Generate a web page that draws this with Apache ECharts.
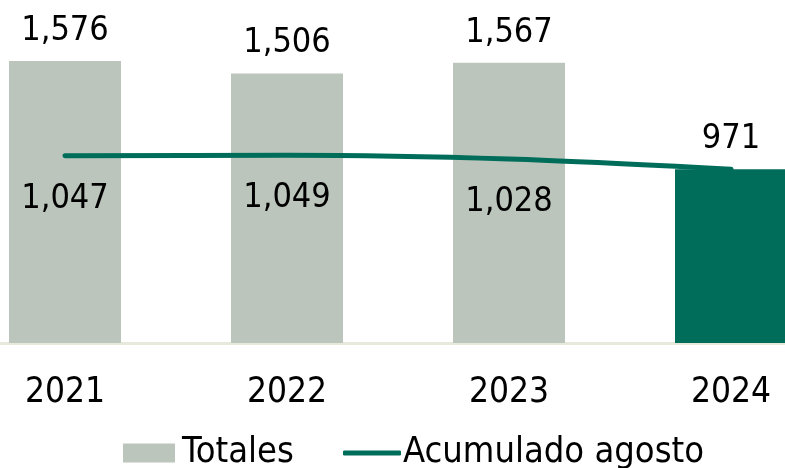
<!DOCTYPE html>
<html>
<head>
<meta charset="utf-8">
<script src="https://cdn.jsdelivr.net/npm/echarts@6/dist/echarts.min.js"></script>
<style>
  html, body { margin: 0; padding: 0; background: #fff; }
  #chart { width: 785px; height: 468px; }
</style>
</head>
<body>
<div id="chart"></div>
<script>
  // datos
  const years = ['2021', '2022', '2023', '2024']
  const totales = [1576, 1506, 1567, 971]
  const acumulado = [1047, 1049, 1028, 971]

  const gray = '#BBC5BB'
  const green = '#006D5B'
  const font = '"DejaVu Sans Condensed", "DejaVu Sans", sans-serif'

  const fmt = v => v.toLocaleString('en-US')

  const chart = echarts.init(document.getElementById('chart'))
  chart.setOption({
    animation: false,
    textStyle: { fontFamily: font },
    grid: { left: 0, right: 0, top: 21, bottom: 125 },
    legend: [
      {
        left: 118, top: 430,
        itemWidth: 52, itemHeight: 19, itemGap: 6,
        icon: 'rect',
        data: ['Totales'],
        textStyle: { fontSize: 36, color: '#000', fontFamily: font, padding: [0, 0, 0, 2] }
      },
      {
        left: 338, top: 430,
        itemWidth: 58, itemHeight: 5,
        icon: 'roundRect',
        data: ['Acumulado agosto'],
        textStyle: { fontSize: 36, color: '#000', fontFamily: font, padding: [0, 0, 0, -3] }
      }
    ],
    // eje de valores para poder correr las columnas hasta el borde
    xAxis: {
      type: 'value',
      min: -65 / 222,
      max: 3 + 54 / 222,
      splitLine: { show: false },
      axisTick: { show: false },
      axisLine: { onZero: false, lineStyle: { color: '#E6E9DC', width: 3 } },
      axisLabel: {
        fontSize: 35, color: '#000', margin: 32, fontFamily: font,
        customValues: [0, 1, 2, 3],
        formatter: v => years[Math.round(v)]
      }
    },
    yAxis: {
      type: 'value', min: 0, max: 1800,
      show: false,
      splitLine: { show: false }
    },
    series: [
      {
        name: 'Totales',
        type: 'bar',
        barWidth: 112,
        itemStyle: { color: gray },
        data: totales.map((v, i) => i === 3
          ? { value: [i, v], itemStyle: { color: green }, label: { show: false } }
          : [i, v]),
        label: {
          show: true, position: 'top', distance: 13,
          fontSize: 34, color: '#000', fontFamily: font,
          formatter: p => fmt(p.value[1])
        },
        z: 1
      },
      {
        name: 'Acumulado agosto',
        type: 'line',
        smooth: 0.3,
        symbol: 'circle',
        symbolSize: 0,
        lineStyle: { color: green, width: 5, cap: 'round' },
        itemStyle: { color: green },
        data: acumulado.map((v, i) => i === 3
          ? { value: [i, v], label: { position: 'top', distance: 13 } }
          : [i, v]),
        label: {
          show: true, position: 'bottom', distance: 26,
          fontSize: 34, color: '#000', fontFamily: font,
          formatter: p => fmt(p.value[1])
        },
        z: 3
      }
    ]
  })
</script>
</body>
</html>
